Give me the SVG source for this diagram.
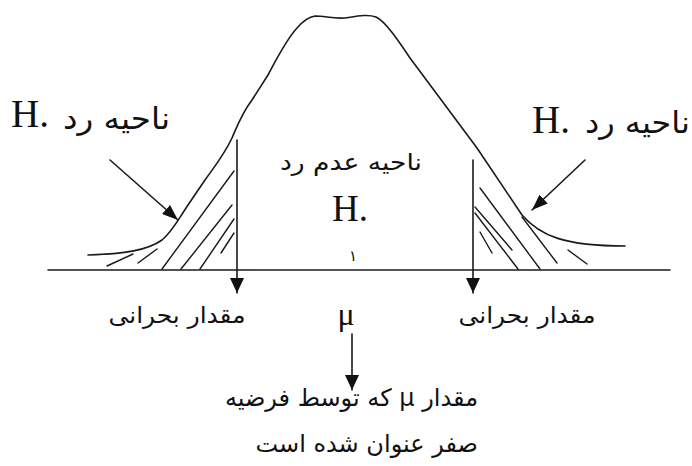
<svg xmlns="http://www.w3.org/2000/svg" width="692" height="466" viewBox="0 0 692 466">
<style>
.ln{fill:none;stroke:#1a1a1a;stroke-width:1.6;stroke-linecap:round;stroke-linejoin:round}
.ht{fill:none;stroke:#1a1a1a;stroke-width:1.4;stroke-linecap:round}
.fa{font-family:"DejaVu Sans",sans-serif;fill:#111}
.sr{font-family:"Liberation Serif",serif;fill:#111}
</style>
<defs>
<marker id="ah" viewBox="0 0 15 14" refX="15" refY="7" markerWidth="15" markerHeight="14" markerUnits="userSpaceOnUse" orient="auto"><path d="M0,0 L15,7 L0,14 z" fill="#111"/></marker>
<marker id="ap" viewBox="0 0 16 12" refX="16" refY="6" markerWidth="16" markerHeight="12" markerUnits="userSpaceOnUse" orient="auto"><path d="M0,0 L16,6 L0,12 z" fill="#111"/></marker>
</defs>
<rect width="692" height="466" fill="#fff"/>
<g id="curve">
<path class="ln" d="M88 255 C125 254 148 250 162 240 C172 232 178 220 188 205 L205 180 C215 166 224 155 232 138 C238 124 242 113 252 100 L268 75 C276 60 286 40 297 28 C303 21 308 17 315 16 C325 16 333 19 345 18 C358 16 368 14 376 17 C385 21 398 40 410 58 L477 148 L522 215 C540 236 565 246 625 246"/>
<line class="ln" x1="48" y1="270" x2="670" y2="270"/>
</g>
<g id="hatch-left">
<line class="ht" x1="162" y1="269" x2="234" y2="171"/>
<line class="ht" x1="181" y1="269" x2="232" y2="205"/>
<line class="ht" x1="200" y1="269" x2="234" y2="219"/>
<line class="ht" x1="221" y1="253" x2="234" y2="233"/>
<line class="ht" x1="107" y1="266" x2="133" y2="254"/>
<line class="ht" x1="138" y1="263" x2="157" y2="249"/>
</g>
<g id="hatch-right">
<line class="ht" x1="480" y1="188" x2="540" y2="269"/>
<line class="ht" x1="475" y1="207" x2="512" y2="250"/>
<line class="ht" x1="475" y1="213" x2="518" y2="269"/>
<line class="ht" x1="480" y1="232" x2="492" y2="253"/>
<line class="ht" x1="522" y1="217" x2="557" y2="263"/>
<line class="ht" x1="568" y1="250" x2="587" y2="264"/>
</g>
<g id="connectors">
<line class="ln" x1="237" y1="140" x2="237" y2="293" marker-end="url(#ah)"/>
<line class="ln" x1="473" y1="160" x2="473" y2="293" marker-end="url(#ah)"/>
<line class="ln" x1="352" y1="334" x2="352" y2="390" marker-end="url(#ah)"/>
<line class="ln" x1="110" y1="160" x2="178" y2="220" marker-end="url(#ap)"/>
<line class="ln" x1="585" y1="160" x2="532" y2="210" marker-end="url(#ap)"/>
</g>
<g id="label-left-reject">
<text class="sr" x="11" y="127" font-size="39">H.</text>
<text class="fa" x="170" y="129" font-size="30" text-anchor="end" textLength="107" lengthAdjust="spacingAndGlyphs">ناحیه رد</text>
</g>
<g id="label-right-reject">
<text class="sr" x="532" y="133" font-size="39">H.</text>
<text class="fa" x="690" y="133" font-size="30" text-anchor="end" textLength="105" lengthAdjust="spacingAndGlyphs">ناحیه رد</text>
</g>
<g id="label-accept">
<text class="fa" x="351" y="170" font-size="23" text-anchor="middle" textLength="142" lengthAdjust="spacingAndGlyphs">ناحیه عدم رد</text>
<text class="sr" x="350" y="221" font-size="37" text-anchor="middle">H.</text>
<text class="fa" x="353" y="261" font-size="15" text-anchor="middle">١</text>
</g>
<g id="label-critical-left">
<text class="fa" x="177" y="323" font-size="23" text-anchor="middle" textLength="137" lengthAdjust="spacingAndGlyphs">مقدار بحرانی</text>
</g>
<g id="label-critical-right">
<text class="fa" x="527" y="323" font-size="23" text-anchor="middle" textLength="137" lengthAdjust="spacingAndGlyphs">مقدار بحرانی</text>
</g>
<g id="label-mu">
<text class="sr" x="346" y="325" font-size="32" text-anchor="middle">μ</text>
</g>
<g id="label-h0-mu">
<text class="fa" x="478" y="406" font-size="24" text-anchor="start" direction="rtl">مقدار μ که توسط فرضیه</text>
<text class="fa" x="478" y="452" font-size="24" text-anchor="start" direction="rtl">صفر عنوان شده است</text>
</g>
</svg>
